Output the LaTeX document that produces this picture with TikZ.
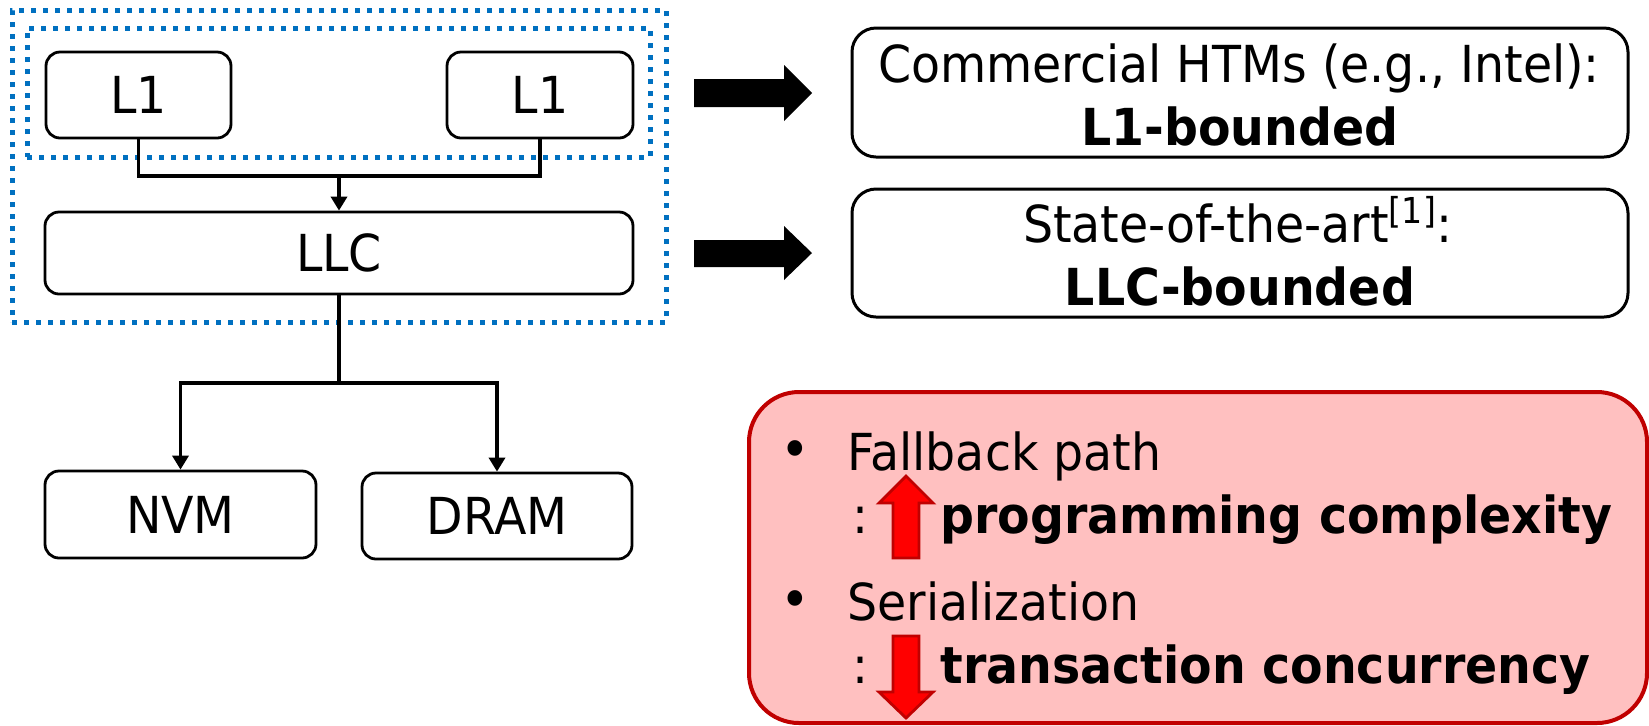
\documentclass[tikz,border=0pt]{standalone}
\usepackage{fontspec}
\setmainfont{DejaVu Sans}[FakeStretch=0.93]
\usetikzlibrary{arrows.meta}
\definecolor{dotblue}{HTML}{0070C0}
\definecolor{alertred}{HTML}{C00000}
\definecolor{alertfill}{HTML}{FFC0C0}
\definecolor{arrowred}{HTML}{FF0000}

\begin{document}
\begin{tikzpicture}[x=0.5pt,y=-0.5pt,
  txt/.style={font=\fontsize{25.5}{30}\selectfont, inner sep=0pt},
  cachebox/.style={draw, line width=1.4pt, rounded corners=7pt, inner sep=0pt, txt},
  notebox/.style={draw, line width=1.5pt, rounded corners=12pt, inner sep=0pt},
  dotbox/.style={draw=dotblue, line width=2.5pt, dash pattern=on 2.5pt off 3.5pt, inner sep=0pt},
  conn/.style={line width=1.7pt},
  tip/.style={conn, -{Triangle[width=8pt,length=7pt]}},
  bigarrow/.style={fill=black},
  redarrow/.style={fill=arrowred, draw=alertred, line width=1.4pt, line join=miter}
]
\useasboundingbox (0,0) rectangle (1649,725);

% dotted scope boxes
\node[dotbox, minimum width=327pt, minimum height=156pt] (outer) at (339,166) {};
\node[dotbox, minimum width=311.5pt, minimum height=64.5pt] (inner) at (338.5,92.5) {};

% cache hierarchy
\node[cachebox, minimum width=92.5pt, minimum height=43pt] (l1a) at (138.5,95) {L1};
\node[cachebox, minimum width=93pt, minimum height=43pt] (l1b) at (540,95) {L1};
\node[cachebox, minimum width=294pt, minimum height=41pt] (llc) at (339,253) {LLC};
\node[cachebox, minimum width=135.5pt, minimum height=43.5pt] (nvm) at (180.5,514.5) {NVM};
\node[cachebox, minimum width=135pt, minimum height=43pt] (dram) at (497,516) {DRAM};

\coordinate (j1) at (339,176);
\coordinate (j2) at (339,383);
\draw[conn] (l1a.south) |- (j1) -| (l1b.south);
\draw[tip] (j1) -- (llc.north);
\draw[conn] (llc.south) -- (j2);
\draw[tip] (j2) -| (nvm.north);
\draw[tip] (j2) -| (dram.north);

% block arrows
\fill[bigarrow] (694,79) -- (784,79) -- (784,65) -- (812,93) -- (784,121) -- (784,107) -- (694,107) -- cycle;
\fill[bigarrow] (694,240) -- (784,240) -- (784,226) -- (812,253) -- (784,280) -- (784,267) -- (694,267) -- cycle;

% bounds
\node[notebox, minimum width=388pt, minimum height=64.5pt] (htm) at (1240,92.5) {};
\node[txt, anchor=base] (htm1) at (1239,82) {Commercial HTMs (e.g., Intel):};
\node[txt, anchor=base] (htm2) at (1240,145) {\bfseries L1-bounded};

\node[notebox, minimum width=388pt, minimum height=64pt] (sota) at (1240,253) {};
\node[txt, anchor=base] (sota1) at (1238,242) {State-of-the-art\textsuperscript{[1]}:};
\node[txt, anchor=base] (sota2) at (1240,305) {\bfseries LLC-bounded};

% drawbacks
\node[draw=alertred, fill=alertfill, line width=2pt, rounded corners=25pt,
      minimum width=449pt, minimum height=165.5pt, inner sep=0pt] (issues) at (1198,557.5) {};

\node[txt, anchor=base] (b1) at (795,468) {\fontsize{27}{30}\selectfont •};
\node[txt, anchor=base west] (fb) at (847,470) {Fallback path};
\node[txt, anchor=base] (c1) at (860,533) {:};
\node[txt, anchor=base west] (pc) at (940,533) {\bfseries programming complexity};

\node[txt, anchor=base] (b2) at (795,618) {\fontsize{27}{30}\selectfont •};
\node[txt, anchor=base west] (ser) at (847,620) {Serialization};
\node[txt, anchor=base] (c2) at (860,683) {:};
\node[txt, anchor=base west] (tc) at (940,683) {\bfseries transaction concurrency};

% up / down indicators
\draw[redarrow] (906,476) -- (933,503) -- (919,503) -- (919,558) -- (893,558) -- (893,503) -- (879,503) -- cycle;
\draw[redarrow] (893,636) -- (919,636) -- (919,692) -- (933,692) -- (906,718) -- (879,692) -- (893,692) -- cycle;
\end{tikzpicture}
\end{document}
